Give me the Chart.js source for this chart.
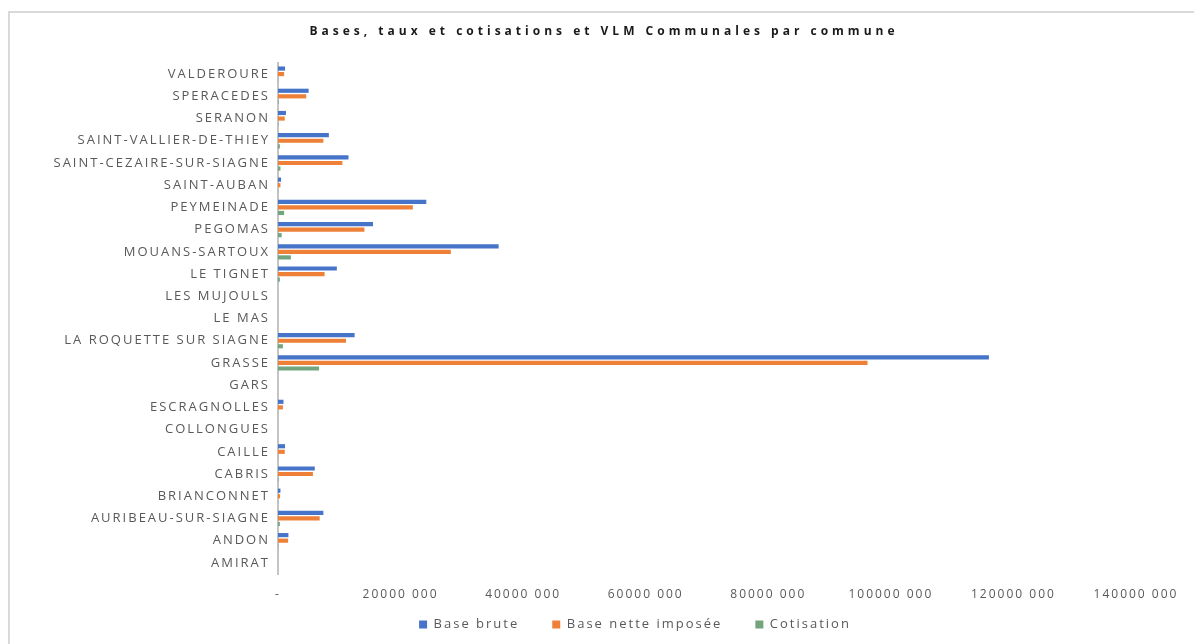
<!DOCTYPE html>
<html lang="fr">
<head>
  <meta charset="UTF-8" />
  <title>Bases, taux et cotisations et VLM Communales par commune</title>
  <script src="https://cdn.jsdelivr.net/npm/chart.js"></script>
  <style>
    body {
      margin: 0;
      background: #fff;
      font-family: "Open Sans", Arial, sans-serif;
    }
    .frame {
      position: absolute;
      left: 8px;
      top: 11px;
      width: 1200px;
      height: 650px;
      border-left: 2px solid #d9d9d9;
      border-top: 2px solid #d9d9d9;
    }
    .chart-box {
      width: 1184px;
      height: 631px;
    }
  </style>
</head>
<body>
  <div class="frame">
    <div class="chart-box">
      <canvas id="communesChart"></canvas>
    </div>
  </div>
  <script>
    const chartTitle = 'Bases, taux et cotisations et VLM Communales par commune';

    // communes in sheet order (drawn bottom to top)
    const communes = [
      'AMIRAT', 'ANDON', 'AURIBEAU-SUR-SIAGNE', 'BRIANCONNET', 'CABRIS', 'CAILLE',
      'COLLONGUES', 'ESCRAGNOLLES', 'GARS', 'GRASSE', 'LA ROQUETTE SUR SIAGNE',
      'LE MAS', 'LES MUJOULS', 'LE TIGNET', 'MOUANS-SARTOUX', 'PEGOMAS',
      'PEYMEINADE', 'SAINT-AUBAN', 'SAINT-CEZAIRE-SUR-SIAGNE',
      'SAINT-VALLIER-DE-THIEY', 'SERANON', 'SPERACEDES', 'VALDEROURE'
    ];

    const baseBrute = [
      0, 1700000, 7400000, 400000, 6000000, 1150000,
      0, 900000, 0, 116000000, 12500000,
      0, 0, 9600000, 36000000, 15500000,
      24200000, 500000, 11500000,
      8300000, 1300000, 5000000, 1150000
    ];

    const baseNette = [
      0, 1650000, 6800000, 350000, 5700000, 1100000,
      0, 800000, 0, 96200000, 11100000,
      0, 0, 7600000, 28200000, 14100000,
      22000000, 400000, 10500000,
      7400000, 1100000, 4600000, 1000000
    ];

    const cotisation = [
      0, 50000, 300000, 30000, 80000, 40000,
      0, 30000, 0, 6700000, 800000,
      0, 0, 300000, 2100000, 600000,
      1000000, 20000, 400000,
      300000, 60000, 100000, 40000
    ];

    const xTicks = { min: 0, max: 140000000, step: 20000000 };

    const seriesNames = ['Base brute', 'Base nette imposée', 'Cotisation'];
    const seriesColors = ['#4674c8', '#ee8038', '#72a47e'];

    const textGrey = '#595959';
    const fontFamily = '"Open Sans", Arial, sans-serif';

    // the source picture has widened text, so spread the letters a bit
    const wideText = {
      id: 'wideText',
      beforeUpdate(chart) { chart.ctx.letterSpacing = '2px'; },
      beforeDraw(chart) { chart.ctx.letterSpacing = '2px'; }
    };

    // legend sits a bit higher and right of where chart.js puts it
    const legendNudge = {
      id: 'legendNudge',
      afterLayout(chart) {
        const lg = chart.legend;
        if (!lg) return;
        const h = lg.height;
        lg.top = 572;
        lg.bottom = 572 + h;
        lg.left += 62;
        lg.right += 62;
      }
    };

    // title drawn by hand so the letter spacing can match
    const spacedTitle = {
      id: 'spacedTitle',
      afterDraw(chart) {
        const ctx = chart.ctx;
        ctx.save();
        ctx.font = 'bold 12px ' + fontFamily;
        ctx.fillStyle = '#1a1a1a';
        ctx.textAlign = 'center';
        ctx.textBaseline = 'middle';
        ctx.letterSpacing = '4px';
        ctx.fillText(chartTitle, 594, 19);
        ctx.restore();
      }
    };

    const ctx = document.getElementById('communesChart').getContext('2d');
    new Chart(ctx, {
      type: 'bar',
      data: {
        labels: communes,
        datasets: [baseBrute, baseNette, cotisation].map((vals, i) => ({
          label: seriesNames[i],
          data: vals,
          backgroundColor: seriesColors[i],
          borderWidth: 0,
          categoryPercentage: 0.75,
          barPercentage: 0.75
        }))
      },
      options: {
        indexAxis: 'y',
        responsive: true,
        maintainAspectRatio: false,
        animation: false,
        layout: { padding: { top: 50, right: 58, bottom: -14, left: 0 } },
        plugins: {
          title: { display: false },
          tooltip: { enabled: false },
          legend: {
            position: 'bottom',
            labels: {
              boxWidth: 8,
              boxHeight: 8,
              padding: 33,
              color: textGrey,
              font: { family: fontFamily, size: 13 }
            }
          }
        },
        scales: {
          x: {
            min: xTicks.min,
            max: xTicks.max,
            grid: { display: false, drawTicks: false },
            border: { display: false },
            afterFit: scale => { scale.height = 28; },
            ticks: {
              stepSize: xTicks.step,
              padding: 13,
              maxRotation: 0,
              color: textGrey,
              font: { family: fontFamily, size: 12 },
              callback: v => v === 0 ? '-' : (v / 1000) + ' 000'
            }
          },
          y: {
            reverse: true,
            grid: { display: false, drawTicks: false },
            border: { display: true, color: '#c4c4c4', width: 2 },
            afterFit: scale => { scale.width = 268; },
            ticks: {
              padding: 8,
              autoSkip: false,
              color: textGrey,
              font: { family: fontFamily, size: 13 }
            }
          }
        }
      },
      plugins: [wideText, legendNudge, spacedTitle]
    });
  </script>
</body>
</html>
